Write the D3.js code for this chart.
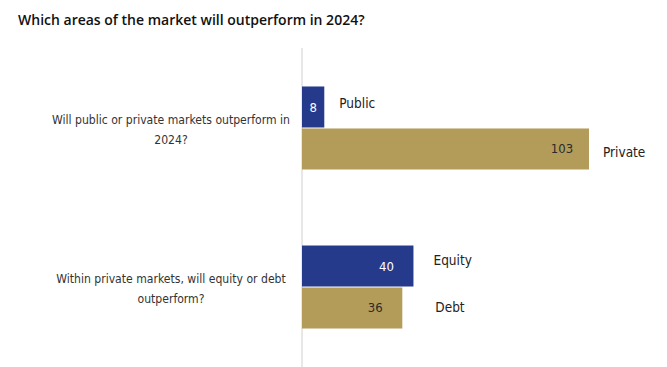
<!DOCTYPE html>
<html><head><meta charset="utf-8">
<script src="https://cdn.jsdelivr.net/npm/d3@7"></script>
<style>
html,body{margin:0;padding:0;background:#fff;}
svg{display:block;}
</style></head>
<body>
<svg id="chart" width="667" height="367"></svg>
<script>
// ---- data ----
const title = "Which areas of the market will outperform in 2024?";
const questions = ["q1", "q2"];
const questionLines = [
  ["Will public or private markets outperform in", "2024?"],
  ["Within private markets, will equity or debt", "outperform?"]
];
const seriesSlots = ["first", "second"];
const barLabels = [["Public", "Private"], ["Equity", "Debt"]];
const barValues = [[8, 103], [40, 36]];

// ---- layout / style (not data) ----
const W = 667, H = 367;
const axisX = 302;
const navy = "#263a8c", gold = "#b39b5a";
const barColors = [navy, gold];
const valueColors = ["#ffffff", "#2b2b2b"];
const catLabelDx = [[15, 14], [20, 33]];
const narrow = "'Liberation Sans Narrow','DejaVu Sans Condensed','Roboto Condensed',sans-serif";

const svg = d3.select("#chart");

svg.append("text")
  .attr("x", 18).attr("y", 25)
  .attr("font-family", "'Open Sans','Noto Sans',sans-serif")
  .attr("font-weight", 600)
  .attr("font-size", 14)
  .attr("fill", "#111")
  .text(title);

const x = d3.scaleLinear().domain([0, 103]).range([axisX, 589]);
const y = d3.scaleBand().domain(questions).range([48, 367]).paddingInner(0.478).paddingOuter(0.242);
const ySub = d3.scaleBand().domain(seriesSlots).range([0, y.bandwidth()]).padding(0);

// axis line
svg.append("line")
  .attr("x1", axisX).attr("x2", axisX)
  .attr("y1", 48).attr("y2", H)
  .attr("stroke", "#d0d0d0").attr("stroke-width", 1);

questions.forEach((q, gi) => {
  const g = svg.append("g").attr("transform", `translate(0,${y(q)})`);
  const t = g.append("text")
    .attr("x", 171)
    .attr("text-anchor", "middle")
    .attr("font-family", narrow)
    .attr("font-size", 12.1)
    .attr("fill", "#333");
  questionLines[gi].forEach((ln, li) => {
    t.append("tspan").attr("x", 171)
      .attr("y", y.bandwidth() / 2 - 4 + li * 20)
      .text(ln);
  });

  seriesSlots.forEach((s, si) => {
    const v = barValues[gi][si];
    const y0 = ySub(s);
    const bh = ySub.bandwidth();
    const xEnd = x(v);
    g.append("rect")
      .attr("x", x(0)).attr("y", y0 + (si === 1 ? 0.5 : 0))
      .attr("width", xEnd - x(0)).attr("height", bh - 0.5)
      .attr("fill", barColors[si]);
    const vx = Math.max(xEnd - 27, (x(0) + xEnd) / 2);
    g.append("text")
      .attr("x", vx).attr("y", y0 + bh / 2)
      .attr("dy", "0.35em")
      .attr("text-anchor", "middle")
      .attr("font-family", narrow)
      .attr("font-size", 13)
      .attr("fill", valueColors[si])
      .text(v);
    g.append("text")
      .attr("x", xEnd + catLabelDx[gi][si])
      .attr("y", y0 + bh / 2 + (gi === 0 ? (si === 0 ? -4 : 4) : (si === 0 ? -6 : 0)))
      .attr("dy", "0.35em")
      .attr("font-family", narrow)
      .attr("font-size", 13.5)
      .attr("fill", "#222")
      .text(barLabels[gi][si]);
  });
});
</script>
</body></html>
